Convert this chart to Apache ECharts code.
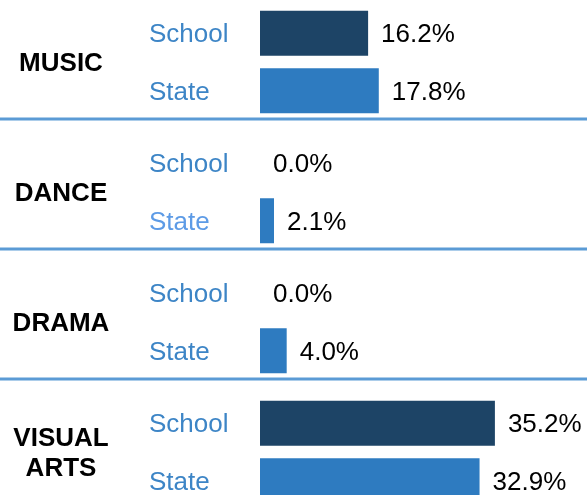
<!DOCTYPE html>
<html>
<head>
<meta charset="utf-8">
<script src="https://cdn.jsdelivr.net/npm/echarts@6/dist/echarts.min.js"></script>
<style>
html,body{margin:0;padding:0;background:#fff;}
#c{width:587px;height:495px;}
</style>
</head>
<body>
<div id="c"></div>
<script>
const groups = ['MUSIC', 'DANCE', 'DRAMA', 'VISUAL\nARTS'];
const rowLabels = ['School', 'State'];
const schoolValues = [16.2, 0.0, 0.0, 35.2];
const stateValues = [17.8, 2.1, 4.0, 32.9];

const FONT = "'Liberation Sans', Arial, sans-serif";
const PITCH = 130;
const chart = echarts.init(document.getElementById('c'));

const grid = [], xAxis = [], yAxis = [], series = [], graphic = [];
groups.forEach((g, i) => {
  const top = 4.5 + PITCH * i;
  grid.push({left: 260, right: 0, top: top, height: 115, outerBoundsMode: 'none', containLabel: false});
  xAxis.push({type: 'value', gridIndex: i, min: 0, max: 49, show: false});
  yAxis.push({
    type: 'category', gridIndex: i, data: rowLabels, inverse: true,
    axisLine: {show: false}, axisTick: {show: false}, splitLine: {show: false},
    axisLabel: {
      align: 'left', margin: 111,
      formatter: (v, idx) => '{' + ((i === 1 && idx === 1) ? 'b' : 'a') + '|' + v + '}',
      rich: {
        a: {fontSize: 26, fontFamily: FONT, color: '#3d85c6', padding: [4, 0, 0, 0]},
        b: {fontSize: 26, fontFamily: FONT, color: '#5d9be6', padding: [4, 0, 0, 0]}
      }
    }
  });
  series.push({
    type: 'bar', xAxisIndex: i, yAxisIndex: i, barWidth: 45,
    data: [
      {value: schoolValues[i], itemStyle: {color: '#1d4466'}},
      {value: stateValues[i], itemStyle: {color: '#2e7bc0'}}
    ],
    label: {
      show: true, position: 'right', distance: 13, fontSize: 26,
      fontFamily: FONT, color: '#000', offset: [0, 2],
      formatter: p => p.value.toFixed(1) + '%'
    },
    silent: true, animation: false
  });
  graphic.push({
    type: 'text', x: 61, y: 64 + PITCH * i,
    style: {
      text: g, font: 'bold 26px ' + FONT, fill: '#000',
      textAlign: 'center', textVerticalAlign: 'middle', lineHeight: 30
    }
  });
  if (i < groups.length - 1) {
    graphic.push({
      type: 'line', shape: {x1: 0, y1: 119 + PITCH * i, x2: 587, y2: 119 + PITCH * i},
      style: {stroke: '#5b9bd5', lineWidth: 3}
    });
  }
});

chart.setOption({animation: false, grid, xAxis, yAxis, series, graphic});
</script>
</body>
</html>
